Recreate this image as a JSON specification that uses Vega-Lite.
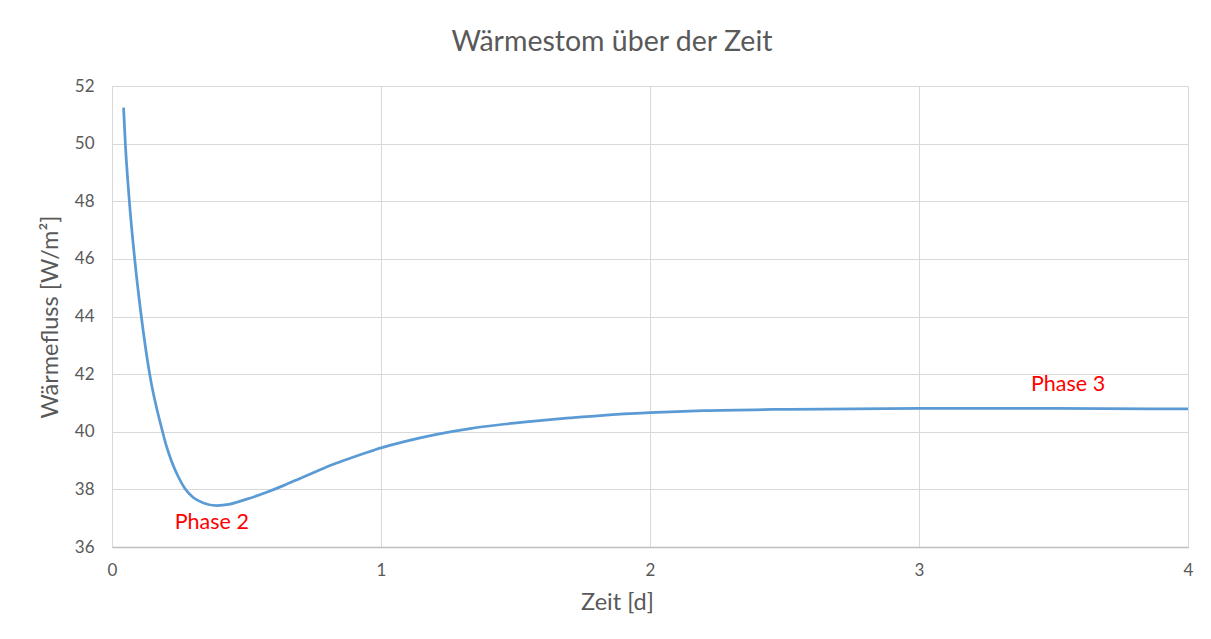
{
  "$schema": "https://vega.github.io/schema/vega-lite/v6.json",
  "width": 1076,
  "height": 461,
  "autosize": {"type": "none"},
  "padding": {"left": 112, "top": 86, "right": 23, "bottom": 92},
  "background": "white",
  "title": {
    "text": "Wärmestom über der Zeit",
    "font": "Lato",
    "fontSize": 28.5,
    "fontWeight": "normal",
    "color": "#595959",
    "anchor": "middle",
    "dx": -38,
    "offset": 21
  },
  "config": {
    "view": {"stroke": "#d9d9d9", "strokeWidth": 1},
    "axis": {
      "labelFont": "Lato",
      "titleFont": "Lato",
      "labelColor": "#595959",
      "titleColor": "#595959",
      "labelFontSize": 17,
      "titleFontSize": 23.5,
      "titleFontWeight": "normal",
      "gridColor": "#d9d9d9",
      "gridWidth": 1,
      "ticks": false,
      "labelFlush": false
    }
  },
  "layer": [
    {
      "data": {
        "values": [
          {"t": 0.043, "q": 51.25},
          {"t": 0.0496, "q": 50.0},
          {"t": 0.0645, "q": 48.0},
          {"t": 0.0843, "q": 46.0},
          {"t": 0.109, "q": 44.0},
          {"t": 0.140, "q": 42.0},
          {"t": 0.188, "q": 40.0},
          {"t": 0.203, "q": 39.48},
          {"t": 0.222, "q": 38.96},
          {"t": 0.247, "q": 38.43},
          {"t": 0.271, "q": 38.03},
          {"t": 0.302, "q": 37.72},
          {"t": 0.340, "q": 37.53},
          {"t": 0.389, "q": 37.44},
          {"t": 0.439, "q": 37.49},
          {"t": 0.501, "q": 37.66},
          {"t": 0.575, "q": 37.90},
          {"t": 0.637, "q": 38.13},
          {"t": 0.699, "q": 38.38},
          {"t": 0.761, "q": 38.63},
          {"t": 0.823, "q": 38.87},
          {"t": 0.885, "q": 39.08},
          {"t": 0.947, "q": 39.28},
          {"t": 1.0, "q": 39.44},
          {"t": 1.083, "q": 39.65},
          {"t": 1.207, "q": 39.91},
          {"t": 1.331, "q": 40.11},
          {"t": 1.455, "q": 40.26},
          {"t": 1.579, "q": 40.38},
          {"t": 1.703, "q": 40.48},
          {"t": 1.826, "q": 40.57},
          {"t": 2.0, "q": 40.66},
          {"t": 2.198, "q": 40.73},
          {"t": 2.52, "q": 40.78},
          {"t": 3.0, "q": 40.81},
          {"t": 3.5, "q": 40.81},
          {"t": 4.0, "q": 40.79}
        ]
      },
      "mark": {"type": "line", "color": "#5B9BD5", "strokeWidth": 2.75, "interpolate": "monotone"},
      "encoding": {
        "x": {
          "field": "t",
          "type": "quantitative",
          "scale": {"domain": [0, 4], "nice": false, "zero": false},
          "axis": {
            "title": "Zeit [d]",
            "values": [0, 1, 2, 3, 4],
            "format": "d",
            "labelPadding": 15,
            "domainColor": "#bfbfbf",
            "domainWidth": 1.5,
            "titleX": 505,
            "titleY": 62,
            "titleBaseline": "alphabetic"
          }
        },
        "y": {
          "field": "q",
          "type": "quantitative",
          "scale": {"domain": [36, 52], "nice": false, "zero": false},
          "axis": {
            "title": "Wärmefluss [W/m²]",
            "values": [36, 38, 40, 42, 44, 46, 48, 50, 52],
            "labelPadding": 18,
            "domain": false,
            "titlePadding": 12
          }
        }
      }
    },
    {
      "data": {
        "values": [
          {"t": 0.371, "q": 36.82, "label": "Phase 2"},
          {"t": 3.554, "q": 41.62, "label": "Phase 3"}
        ]
      },
      "mark": {"type": "text", "font": "Lato", "fontSize": 21.5, "color": "#ff0000", "align": "center", "baseline": "middle"},
      "encoding": {
        "x": {"field": "t", "type": "quantitative"},
        "y": {"field": "q", "type": "quantitative"},
        "text": {"field": "label"}
      }
    }
  ]
}
